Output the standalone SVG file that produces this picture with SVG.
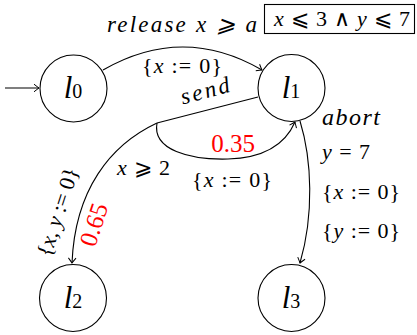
<svg xmlns="http://www.w3.org/2000/svg" width="417" height="335" viewBox="0 0 417 335">
<defs>
<marker id="ah" viewBox="-6 -5 8 10" markerWidth="8" markerHeight="10" refX="0" refY="0" orient="auto" markerUnits="userSpaceOnUse">
<path d="M-5,-3.8 Q-1.5,-1 0,0 Q-1.5,1 -5,3.8" fill="none" stroke="#000" stroke-width="1"/>
</marker>
</defs>
<g id="connectors" fill="none" stroke="#000" stroke-width="1.1">
<path d="M5,88 L39,88" marker-end="url(#ah)"/>
<path d="M103,70 Q183,24 262,70" marker-end="url(#ah)"/>
<path d="M258,97 L157,123"/>
<path d="M157,123 C152,150 190,160 228,159 C262,158 285,145 295,122" marker-end="url(#ah)"/>
<path d="M157,123 C110,145 75,190 72,263" marker-end="url(#ah)"/>
<path d="M300,121 C312,160 314,215 300,263" marker-end="url(#ah)"/>
</g>
<g id="node-l0">
<circle cx="73.5" cy="88.5" r="33.5" fill="#fff" stroke="#000" stroke-width="1.1"/>
<text x="73" y="98" text-anchor="middle" style="font-family:'Liberation Serif',serif;font-size:31px;font-style:italic">l<tspan style="font-size:20px;font-style:normal">0</tspan></text>
</g>
<g id="node-l1">
<circle cx="291.5" cy="88" r="33.5" fill="#fff" stroke="#000" stroke-width="1.1"/>
<text x="291" y="98" text-anchor="middle" style="font-family:'Liberation Serif',serif;font-size:31px;font-style:italic">l<tspan style="font-size:20px;font-style:normal">1</tspan></text>
</g>
<g id="node-l2">
<circle cx="73" cy="298" r="33.5" fill="#fff" stroke="#000" stroke-width="1.1"/>
<text x="73" y="308" text-anchor="middle" style="font-family:'Liberation Serif',serif;font-size:31px;font-style:italic">l<tspan style="font-size:20px;font-style:normal">2</tspan></text>
</g>
<g id="node-l3">
<circle cx="291.5" cy="298" r="33.5" fill="#fff" stroke="#000" stroke-width="1.1"/>
<text x="291" y="308" text-anchor="middle" style="font-family:'Liberation Serif',serif;font-size:31px;font-style:italic">l<tspan style="font-size:20px;font-style:normal">3</tspan></text>
</g>
<g id="invariant">
<rect x="264.5" y="4.5" width="150" height="29" fill="#fff" stroke="#000" stroke-width="1.1"/>
<text x="274" y="26" textLength="136" lengthAdjust="spacing" style="font-family:'Liberation Serif',serif;font-size:22px"><tspan style="font-style:italic">x</tspan> ⩽ 3 ∧ <tspan style="font-style:italic">y</tspan> ⩽ 7</text>
</g>
<g id="labels">
<text x="107" y="32" textLength="150" lengthAdjust="spacing" style="font-family:'Liberation Serif',serif;font-size:23px;font-style:italic">release x ⩾ a</text>
<text x="142" y="73" textLength="80" lengthAdjust="spacing" style="font-family:'Liberation Serif',serif;font-size:22px">{<tspan style="font-style:italic">x</tspan> := 0}</text>
<text transform="translate(207,98) rotate(-15)" text-anchor="middle" textLength="50" lengthAdjust="spacing" style="font-family:'Liberation Serif',serif;font-size:23px;font-style:italic">send</text>
<text x="233" y="152" text-anchor="middle" fill="#ff0000" style="font-family:'Liberation Serif',serif;font-size:25px">0.35</text>
<text x="192" y="187" textLength="80" lengthAdjust="spacing" style="font-family:'Liberation Serif',serif;font-size:22px">{<tspan style="font-style:italic">x</tspan> := 0}</text>
<text x="117" y="175" textLength="53" lengthAdjust="spacing" style="font-family:'Liberation Serif',serif;font-size:22px"><tspan style="font-style:italic">x</tspan> ⩾ 2</text>
<text x="322" y="125" textLength="58" lengthAdjust="spacing" style="font-family:'Liberation Serif',serif;font-size:24px;font-style:italic">abort</text>
<text x="322" y="159" textLength="48" lengthAdjust="spacing" style="font-family:'Liberation Serif',serif;font-size:22px"><tspan style="font-style:italic">y</tspan> = 7</text>
<text x="322" y="199" textLength="78" lengthAdjust="spacing" style="font-family:'Liberation Serif',serif;font-size:22px">{<tspan style="font-style:italic">x</tspan> := 0}</text>
<text x="322" y="238" textLength="78" lengthAdjust="spacing" style="font-family:'Liberation Serif',serif;font-size:22px">{<tspan style="font-style:italic">y</tspan> := 0}</text>
<text transform="translate(58,212) rotate(-72)" y="7" text-anchor="middle" textLength="92" lengthAdjust="spacing" style="font-family:'Liberation Serif',serif;font-size:22px">{<tspan style="font-style:italic">x</tspan>, <tspan style="font-style:italic">y</tspan> := 0}</text>
<text transform="translate(95,225) rotate(-72)" y="7" text-anchor="middle" fill="#ff0000" style="font-family:'Liberation Serif',serif;font-size:25px">0.65</text>
</g>
</svg>
